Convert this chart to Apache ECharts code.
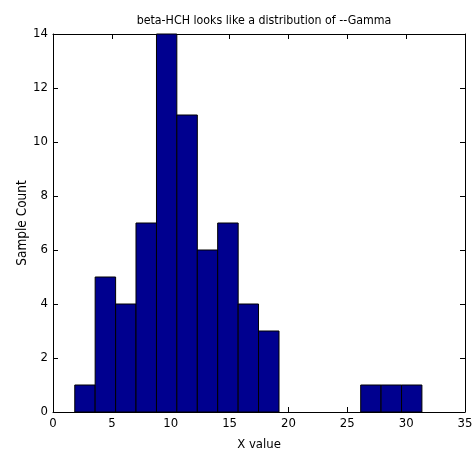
<!DOCTYPE html>
<html>
<head>
<meta charset="utf-8">
<script src="https://cdn.jsdelivr.net/npm/echarts@6/dist/echarts.min.js"></script>
<style>
html,body{margin:0;padding:0;background:#fff;}
#chart{width:476px;height:452px;}
</style>
</head>
<body>
<div id="chart"></div>
<script>
// Histogram bins (left edge, right edge) and counts
var binStarts = [1.85, 3.58, 5.32, 7.05, 8.79, 10.52, 12.26, 13.99, 15.73, 17.46, 19.20, 20.93, 22.67, 24.40, 26.14, 27.87, 29.61];
var binEnds   = [3.58, 5.32, 7.05, 8.79, 10.52, 12.26, 13.99, 15.73, 17.46, 19.20, 20.93, 22.67, 24.40, 26.14, 27.87, 29.61, 31.34];
var counts    = [1, 5, 4, 7, 14, 11, 6, 7, 4, 3, 0, 0, 0, 0, 1, 1, 1];

var titleText = 'beta-HCH looks like a distribution of --Gamma';
var xName = 'X value';
var yName = 'Sample Count';

var FONT = '"Liberation Sans Narrow", "DejaVu Sans Condensed", "Liberation Sans", sans-serif';

var data = [];
for (var i = 0; i < counts.length; i++) {
  if (counts[i] > 0) data.push([binStarts[i], binEnds[i], counts[i]]);
}

var chart = echarts.init(document.getElementById('chart'), null, {renderer: 'canvas'});
var axisLine = {show: true, onZero: false, lineStyle: {color: '#000', width: 1}};
var tick = {show: true, inside: true, length: 5, lineStyle: {color: '#000'}};
var label = {color: '#000', fontFamily: FONT, fontSize: 13};

chart.setOption({
  animation: false,
  backgroundColor: '#fff',
  title: {
    text: titleText,
    left: 259, top: 10,
    textAlign: 'center',
    textStyle: {fontFamily: FONT, fontSize: 12.3, fontWeight: 'normal', color: '#000'}
  },
  grid: {left: 53, right: 11, top: 34, bottom: 40, containLabel: false, outerBoundsMode: 'none'},
  xAxis: [
    {type: 'value', min: 0, max: 35, interval: 5, position: 'bottom',
     axisLine: axisLine, axisTick: tick, splitLine: {show: false},
     axisLabel: Object.assign({margin: 5}, label),
     name: xName, nameLocation: 'middle', nameGap: 26, nameMoveOverlap: false,
     nameTextStyle: {fontFamily: FONT, fontSize: 13, color: '#000'}},
    {type: 'value', min: 0, max: 35, interval: 5, position: 'top',
     axisLine: axisLine, axisTick: tick, splitLine: {show: false},
     axisLabel: {show: false}}
  ],
  yAxis: [
    {type: 'value', min: 0, max: 14, interval: 2, position: 'left',
     axisLine: axisLine, axisTick: tick, splitLine: {show: false},
     axisLabel: Object.assign({margin: 5}, label),
     name: yName, nameLocation: 'middle', nameGap: 24, nameMoveOverlap: false,
     nameTextStyle: {fontFamily: FONT, fontSize: 13.5, color: '#000'}},
    {type: 'value', min: 0, max: 14, interval: 2, position: 'right',
     axisLine: axisLine, axisTick: tick, splitLine: {show: false},
     axisLabel: {show: false}}
  ],
  series: [{
    type: 'custom',
    xAxisIndex: 0, yAxisIndex: 0,
    data: data,
    encode: {x: [0, 1], y: 2},
    renderItem: function (params, api) {
      var p0 = api.coord([api.value(0), api.value(2)]);
      var p1 = api.coord([api.value(1), 0]);
      return {
        type: 'rect',
        shape: {x: p0[0], y: p0[1], width: p1[0] - p0[0], height: p1[1] - p0[1]},
        style: {fill: '#00008F', stroke: '#000', lineWidth: 1}
      };
    }
  }]
});
</script>
</body>
</html>
